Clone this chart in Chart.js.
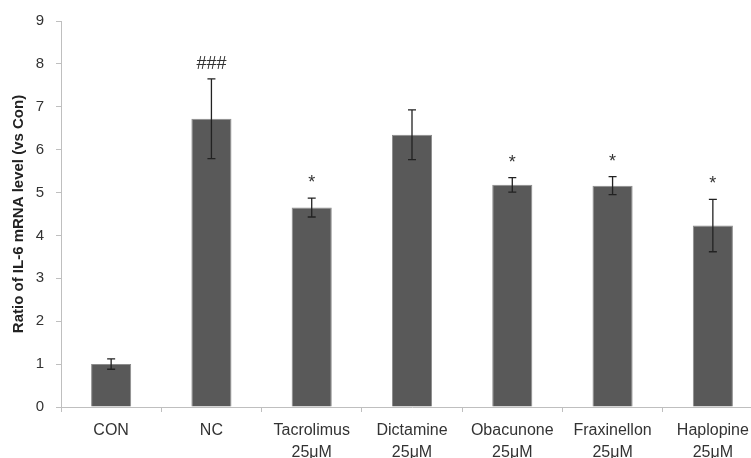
<!DOCTYPE html>
<html>
<head>
<meta charset="utf-8">
<script src="https://cdn.jsdelivr.net/npm/chart.js@4"></script>
<style>
  html, body { margin: 0; padding: 0; background: #fff; overflow: hidden; }
</style>
</head>
<body>
<canvas id="il6-chart" width="770" height="458"></canvas>
<script>
const categories = [['CON'], ['NC'], ['Tacrolimus', '25μM'], ['Dictamine', '25μM'], ['Obacunone', '25μM'], ['Fraxinellon', '25μM'], ['Haplopine', '25μM']];
const ratio = [1.00, 6.72, 4.65, 6.35, 5.18, 5.16, 4.23];
const ratio_err = [0.12, 0.93, 0.22, 0.58, 0.17, 0.21, 0.61];
const marks = ['', '###', '*', '', '*', '*', '*'];
const yTicks = [0, 1, 2, 3, 4, 5, 6, 7, 8, 9];

// error bars + significance marks, drawn through the scales
const errorBars = {
    id: 'errorBars',
    afterDatasetsDraw(chart) {
        const ctx = chart.ctx;
        const x = chart.scales.x;
        const y = chart.scales.y;
        ctx.save();
        ctx.strokeStyle = '#222';
        ctx.lineWidth = 1.3;
        ratio.forEach((v, i) => {
            const px = x.getPixelForValue(i);
            const top = y.getPixelForValue(v + ratio_err[i]);
            const bot = y.getPixelForValue(v - ratio_err[i]);
            ctx.beginPath();
            ctx.moveTo(px, top); ctx.lineTo(px, bot);
            ctx.moveTo(px - 4, top); ctx.lineTo(px + 4, top);
            ctx.moveTo(px - 4, bot); ctx.lineTo(px + 4, bot);
            ctx.stroke();
            if (marks[i]) {
                ctx.fillStyle = '#333';
                ctx.font = '18px "Liberation Sans"';
                ctx.textAlign = 'center';
                ctx.textBaseline = 'alphabetic';
                ctx.fillText(marks[i], px, top - 10);
            }
        });
        ctx.restore();
    }
};

const il6_chart = new Chart(
    document.getElementById('il6-chart').getContext('2d'), {
    type: 'bar',
    data: {
        labels: categories,
        datasets: [{
            label: 'Ratio',
            data: ratio,
            backgroundColor: '#595959',
            borderColor: '#8c8c8c',
            borderWidth: 1,
            barPercentage: 0.4,
            categoryPercentage: 1.0,
        }]
    },
    options: {
        responsive: false,
        animation: false,
        layout: { padding: { top: 20, right: 7, left: 0, bottom: 0 } },
        plugins: {
            legend: { display: false },
            tooltip: { enabled: false }
        },
        scales: {
            x: {
                grid: {
                    offset: true,
                    drawOnChartArea: false,
                    tickLength: 5,
                    color: '#bfbfbf'
                },
                border: { color: '#bfbfbf' },
                ticks: {
                    color: '#333',
                    font: { family: 'Liberation Sans', size: 16, lineHeight: 1.35 },
                    padding: 8,
                    maxRotation: 0,
                    autoSkip: false
                },
                afterFit(scale) { scale.height = 51; }
            },
            y: {
                min: 0,
                max: 9,
                afterBuildTicks(scale) { scale.ticks = yTicks.map(v => ({ value: v })); },
                grid: {
                    drawOnChartArea: false,
                    tickLength: 5,
                    color: '#bfbfbf'
                },
                border: { color: '#bfbfbf' },
                ticks: {
                    color: '#333',
                    font: { family: 'Liberation Sans', size: 15 },
                    padding: 12
                },
                title: {
                    display: true,
                    text: 'Ratio of IL-6 mRNA level (vs Con)',
                    color: '#222',
                    font: { family: 'Liberation Sans', size: 15, weight: 'bold' },
                    padding: { top: 10, bottom: 0 }
                },
                afterFit(scale) { scale.width = 61; }
            }
        }
    },
    plugins: [errorBars]
});
</script>
</body>
</html>
